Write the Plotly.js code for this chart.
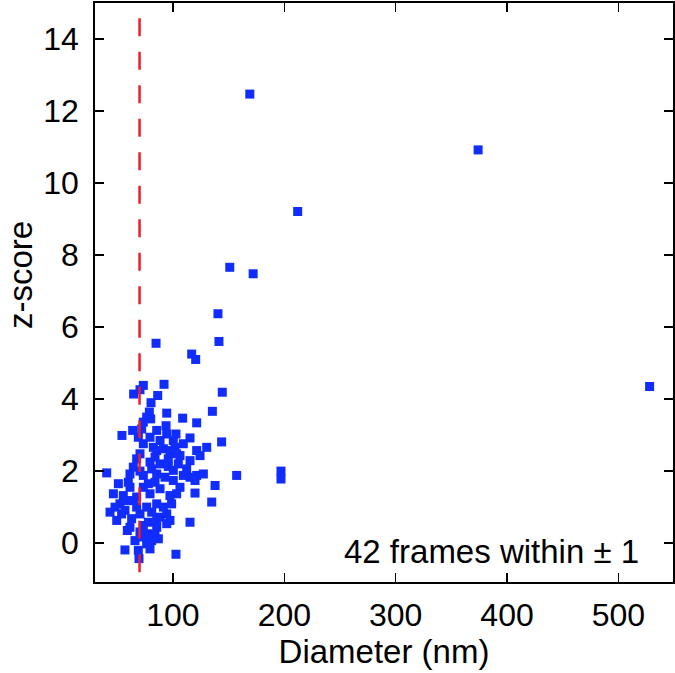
<!DOCTYPE html>
<html>
<head>
<meta charset="utf-8">
<script src="https://cdn.plot.ly/plotly-3.0.1.min.js"></script>
<style>html,body{margin:0;padding:0;background:#fff;}#chart{width:675px;height:673px;}</style>
</head>
<body>
<div id="chart"></div>
<script>
// Diameter (nm) of each frame
const diameter = [
 84.8,141.3,116.8,120.4,92.0,73.4,70.4,64.7,86.3,144.3,
 80.3,78.8,94.4,135.4,80.0,108.7,121.3,73.4,93.8,63.8,
 71.9,102.7,54.2,68.9,79.4,100.3,115.3,143.7,130.3,121.3,
 124.3,73.4,82.4,85.4,91.4,97.3,101.8,106.3,70.4,83.9,
 95.8,103.3,67.4,79.4,88.4,95.8,104.8,64.4,70.4,80.9,
 112.3,40.5,61.4,73.4,85.4,115.3,121.3,127.3,157.2,51.0,
 59.9,77.9,83.9,100.3,106.3,119.8,137.8,46.5,55.4,67.4,
 79.4,97.3,103.3,52.4,64.4,85.4,119.8,134.8,98.8,43.5,
 56.9,70.4,80.9,94.4,49.5,62.9,77.9,88.4,97.3,115.3,
 73.4,85.4,59.0,70.4,83.9,65.9,76.4,80.9,56.9,68.9,
 79.4,102.7,69.5,
 61.4,73.4,88.4,67.4,76.4,91.4,85.4,94.4,77.9,86.9,
 73.4,61.4,53.9,48.0,58.4,100.3,92.9,109.3,115.3,109.3,
 88.4,94.4,85.4,76.4,
 169.0,374.0,212.0,151.0,172.0,528.0,197.0,197.0,140.4
];
// z-score of each frame
const zscore = [
 5.55,5.60,5.25,5.10,4.41,4.38,4.26,4.14,4.10,4.19,
 3.90,3.64,3.61,3.66,3.45,3.47,3.34,3.36,3.26,3.13,
 3.17,3.03,2.99,2.94,2.94,2.85,2.92,2.81,2.66,2.57,
 2.43,2.76,2.66,2.57,2.62,2.57,2.66,2.43,2.48,2.39,
 2.34,2.48,2.34,2.25,2.20,2.13,2.20,2.11,2.00,2.06,
 2.06,1.95,1.92,1.88,1.92,1.83,1.88,1.92,1.88,1.65,
 1.69,1.65,1.69,1.74,1.55,1.74,1.60,1.37,1.32,1.28,
 1.37,1.32,1.37,1.09,1.18,1.09,1.39,1.14,1.09,0.86,
 0.91,0.81,0.86,0.81,0.63,0.68,0.58,0.72,0.63,0.58,
 0.49,0.44,0.35,0.31,0.21,0.07,-0.02,0.07,-0.19,-0.20,
 -0.16,-0.31,-0.43,
 1.55,1.55,1.51,1.00,1.00,1.00,0.63,0.54,0.26,0.12,
 0.17,0.44,0.81,1.00,1.18,2.02,1.83,1.88,2.29,2.76,
 2.85,3.03,3.13,3.50,
 12.47,10.92,9.21,7.66,7.48,4.35,2.00,1.78,6.37
];
const xTickVals = [100, 200, 300, 400, 500];
const yTickVals = [0, 2, 4, 6, 8, 10, 12, 14];
const thresholdDiameter = 70;
const noteText = "42 frames within \u00b1 1";
const xTitle = "Diameter (nm)";
const yTitle = "z-score";

const FONT = '"Liberation Sans", Arial, Helvetica, sans-serif';

const trace = {
  type: 'scatter', mode: 'markers',
  x: diameter, y: zscore,
  marker: {symbol: 'square', size: 9, color: 'rgb(16,44,255)', line: {width: 0}},
  hoverinfo: 'skip', showlegend: false
};

const axisCommon = {
  showgrid: false, zeroline: false, showline: true, linecolor: '#000', linewidth: 1.8,
  mirror: 'ticks', ticks: 'inside', ticklen: 9, tickwidth: 1.3, tickcolor: '#000',
  tickfont: {family: FONT, size: 32, color: '#000'}
};

const layout = {
  width: 675, height: 673,
  margin: {l: 95, r: 2, t: 3, b: 91},
  paper_bgcolor: '#fff', plot_bgcolor: '#fff',
  font: {family: FONT, color: '#000'},
  xaxis: Object.assign({}, axisCommon, {
    range: [30, 549], tickvals: xTickVals, ticktext: xTickVals.map(String),
    ticklabelstandoff: 4,
    title: {text: xTitle, font: {family: FONT, size: 33, color: '#000'}, standoff: 8}
  }),
  yaxis: Object.assign({}, axisCommon, {
    range: [-1.08, 15], tickvals: yTickVals, ticktext: yTickVals.map(String),
    ticklabelstandoff: 8
  }),
  shapes: [{
    type: 'line', xref: 'x', yref: 'paper',
    x0: thresholdDiameter, x1: thresholdDiameter, y0: 0.9736, y1: 0,
    line: {color: '#e8202a', width: 2.5, dash: '18px,15.5px'}
  }],
  annotations: [
    {text: noteText, xref: 'paper', yref: 'paper', x: 0.945, y: 0.053,
     xanchor: 'right', yanchor: 'middle', showarrow: false,
     font: {family: FONT, size: 33, color: '#000'}},
    {text: yTitle, xref: 'paper', yref: 'paper', x: -0.13, y: 0.53,
     xanchor: 'center', yanchor: 'middle', textangle: -90, showarrow: false,
     font: {family: FONT, size: 33, color: '#000'}}
  ]
};

Plotly.newPlot('chart', [trace], layout, {staticPlot: true, displayModeBar: false});
</script>
</body>
</html>
